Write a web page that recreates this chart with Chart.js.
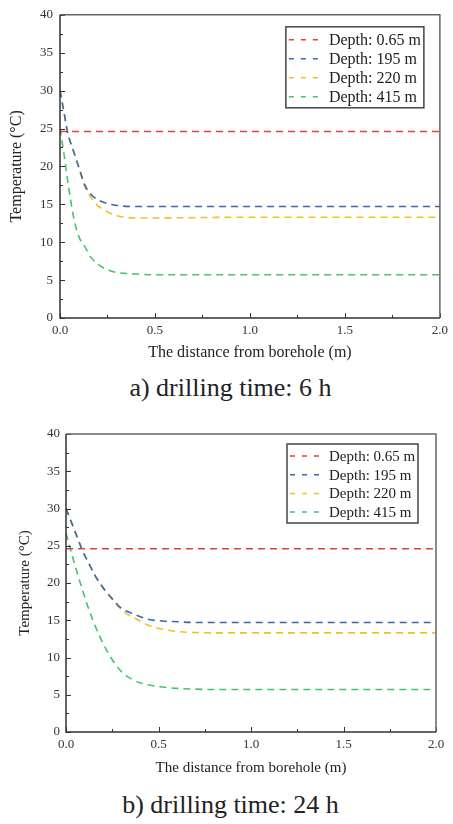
<!DOCTYPE html>
<html>
<head>
<meta charset="utf-8">
<script src="https://cdn.jsdelivr.net/npm/chart.js@4.4.0/dist/chart.umd.min.js"></script>
<style>
body { margin: 0; background: #fff; width: 453px; height: 824px; position: relative; overflow: hidden; font-family: "Liberation Serif", serif; }
canvas { position: absolute; left: 0; }
.cap { position: absolute; left: 4px; width: 453px; text-align: center; font-size: 26px; line-height: 1; color: #222; }
</style>
</head>
<body>
<canvas id="c6" width="453" height="368" style="top:0px"></canvas>
<div class="cap" style="top:375px">a) drilling time: 6 h</div>
<canvas id="c24" width="453" height="368" style="top:420px"></canvas>
<div class="cap" style="top:792px">b) drilling time: 24 h</div>
<script>
// legend text and colours
var depthLabels = ["Depth: 0.65 m", "Depth: 195 m", "Depth: 220 m", "Depth: 415 m"];
var lineColors = ["#E2403A", "#3A68A8", "#F5BF2A", "#44C46E"];

// a) 6 h
var dist6   = [0, 0.02, 0.04, 0.07, 0.1, 0.13, 0.16, 0.2, 0.25, 0.3, 0.4, 0.5, 0.75, 1.0, 1.5, 2.0];
var t6_065  = [24.6, 24.6, 24.6, 24.6, 24.6, 24.6, 24.6, 24.6, 24.6, 24.6, 24.6, 24.6, 24.6, 24.6, 24.6, 24.6];
var t6_195  = [30, 27.3, 24.5, 22.1, 19.8, 17.6, 16.4, 15.6, 15.1, 14.85, 14.7, 14.7, 14.7, 14.7, 14.7, 14.7];
var t6_220  = [30, 27.3, 24.4, 22.1, 19.8, 17.4, 16.0, 14.8, 14.0, 13.5, 13.2, 13.2, 13.25, 13.3, 13.3, 13.3];
var t6_415  = [25, 21.8, 18.2, 13.5, 10.7, 9.45, 8.1, 7.1, 6.35, 6.0, 5.8, 5.7, 5.7, 5.7, 5.7, 5.7];

// b) 24 h
var dist24  = [0, 0.03, 0.06, 0.09, 0.12, 0.16, 0.2, 0.25, 0.3, 0.37, 0.45, 0.52, 0.6, 0.7, 0.8, 1.0, 1.5, 2.0];
var t24_065 = [24.6, 24.6, 24.6, 24.6, 24.6, 24.6, 24.6, 24.6, 24.6, 24.6, 24.6, 24.6, 24.6, 24.6, 24.6, 24.6, 24.6, 24.6];
var t24_195 = [30, 28.1, 26.2, 24.3, 22.8, 20.9, 19.4, 17.9, 16.6, 15.8, 15.1, 14.9, 14.8, 14.7, 14.7, 14.7, 14.7, 14.7];
var t24_220 = [30, 28.1, 26.2, 24.3, 22.8, 20.8, 19.3, 17.8, 16.4, 15.3, 14.3, 13.8, 13.5, 13.35, 13.3, 13.3, 13.3, 13.3];
var t24_415 = [26.7, 24.0, 21.4, 19.0, 16.7, 14.1, 11.9, 9.7, 8.1, 6.9, 6.3, 6.05, 5.85, 5.75, 5.7, 5.7, 5.7, 5.7];

var FONT = "'Liberation Serif', serif";

// frame, inward ticks and boxed legend inside the plot
var boxPlugin = {
    id: "box",
    afterDatasetsDraw: function(chart) {
        var c = chart.options.plugins.box;
        var ctx = chart.ctx, a = chart.chartArea;
        var xs = chart.scales.x, ys = chart.scales.y;
        ctx.save();
        ctx.strokeStyle = "#333";
        ctx.lineWidth = 1;
        for (var i = 0; i <= 8; i++) {
            var px = Math.round(xs.getPixelForValue(i * 0.25)) + 0.5;
            var len = i % 2 ? 3 : 5;
            ctx.beginPath(); ctx.moveTo(px, a.bottom); ctx.lineTo(px, a.bottom - len); ctx.stroke();
        }
        for (var j = 0; j <= 16; j++) {
            var py = Math.round(ys.getPixelForValue(j * 2.5)) + 0.5;
            var l2 = j % 2 ? 3 : 5;
            ctx.beginPath(); ctx.moveTo(a.left, py); ctx.lineTo(a.left + l2, py); ctx.stroke();
        }
        // frame
        ctx.lineWidth = 1.5;
        ctx.strokeStyle = "#666";
        ctx.beginPath();
        ctx.moveTo(a.left, a.top); ctx.lineTo(a.right, a.top); ctx.lineTo(a.right, a.bottom);
        ctx.stroke();
        ctx.strokeStyle = "#333";
        ctx.beginPath();
        ctx.moveTo(a.left, a.top); ctx.lineTo(a.left, a.bottom); ctx.lineTo(a.right, a.bottom);
        ctx.stroke();

        // legend
        var lx = a.right - c.right - c.w, ly = a.top + c.top;
        ctx.fillStyle = "#fff";
        ctx.fillRect(lx, ly, c.w, c.h);
        ctx.lineWidth = 1.5;
        ctx.strokeStyle = "#444";
        ctx.strokeRect(lx, ly, c.w, c.h);
        ctx.font = c.fontSize + "px " + FONT;
        ctx.textBaseline = "middle";
        ctx.textAlign = "left";
        chart.data.datasets.forEach(function(ds, k) {
            var ry = ly + c.first + k * c.gap;
            ctx.strokeStyle = ds.borderColor;
            ctx.lineWidth = 1.5;
            ctx.setLineDash([5, 7]);
            ctx.beginPath(); ctx.moveTo(lx + 3, ry); ctx.lineTo(lx + 3 + c.sample, ry); ctx.stroke();
            ctx.setLineDash([]);
            ctx.fillStyle = "#222";
            ctx.fillText(ds.label, lx + 7 + c.sample, ry + 1);
        });
        ctx.restore();
    }
};

function zip(xs, ys) {
    return xs.map(function(x, i) { return { x: x, y: ys[i] }; });
}

function makeChart(id, dist, series, L) {
    var datasets = series.map(function(vals, k) {
        return {
            label: depthLabels[k],
            data: zip(dist, vals),
            borderColor: lineColors[k],
            borderWidth: 1.6,
            borderDash: [7, 5],
            pointRadius: 0,
            fill: false,
            cubicInterpolationMode: "monotone"
        };
    });
    return new Chart(document.getElementById(id), {
        type: "line",
        data: { datasets: datasets },
        options: {
            responsive: false,
            animation: false,
            devicePixelRatio: 1,
            layout: { padding: { top: L.padTop, right: L.padRight, left: 0, bottom: 0 } },
            plugins: {
                legend: { display: false },
                tooltip: { enabled: false },
                box: L.legend
            },
            scales: {
                x: {
                    type: "linear", min: 0, max: 2,
                    grid: { display: false, drawTicks: false },
                    border: { display: false },
                    ticks: { stepSize: 0.5, padding: 5, color: "#333", font: { family: FONT, size: 13 },
                             callback: function(v) { return v.toFixed(1); } },
                    title: { display: true, text: "The distance from borehole (m)", color: "#222",
                             font: { family: FONT, size: L.titleSize }, padding: { top: 0, bottom: L.xTitlePad } },
                    afterFit: function(s) { s.height = L.xHeight; }
                },
                y: {
                    min: 0, max: 40,
                    grid: { display: false, drawTicks: false },
                    border: { display: false },
                    ticks: { stepSize: 5, padding: L.yTickPad, color: "#333", font: { family: FONT, size: 13 } },
                    title: { display: true, text: "Temperature (°C)", color: "#222",
                             font: { family: FONT, size: L.titleSize }, padding: { top: L.yTitlePad, bottom: 0 } },
                    afterFit: function(s) { s.width = L.yWidth; }
                }
            }
        },
        plugins: [boxPlugin]
    });
}

makeChart("c6", dist6, [t6_065, t6_195, t6_220, t6_415], {
    padTop: 8, padRight: 10, yWidth: 60, xHeight: 50, yTickPad: 7,
    titleSize: 16, xTitlePad: 6, yTitlePad: 7,
    legend: { right: 16, top: 12, w: 138, h: 81, first: 13, gap: 19, sample: 36, fontSize: 16 }
});

makeChart("c24", dist24, [t24_065, t24_195, t24_220, t24_415], {
    padTop: 14, padRight: 17, yWidth: 66, xHeight: 56, yTickPad: 6,
    titleSize: 15, xTitlePad: 11, yTitlePad: 16,
    legend: { right: 18, top: 10, w: 131, h: 79, first: 12, gap: 18.7, sample: 35, fontSize: 15 }
});
</script>
</body>
</html>
